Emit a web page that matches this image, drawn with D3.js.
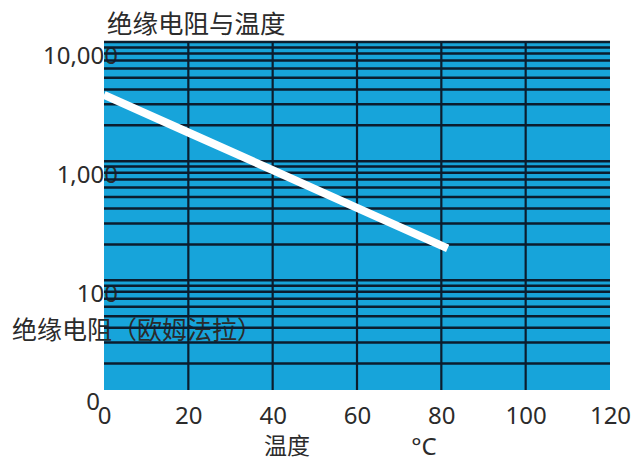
<!DOCTYPE html>
<html>
<head>
<meta charset="utf-8">
<script src="https://cdn.jsdelivr.net/npm/d3@7"></script>
<style>
  body { margin: 0; background: #fff; }
  svg text { font-family: "Noto Sans", "Noto Sans CJK SC", sans-serif; fill: #2b2b2b; }
</style>
</head>
<body>
<svg id="chart" width="639" height="462"></svg>
<script>
// data
const temps = [0, 20, 40, 60, 81.5];
const resistance = [3600, 1740, 840, 405, 185];

const xTickValues = [0, 20, 40, 60, 80, 100, 120];
const xGridValues = [20, 40, 60, 80, 100];
const yTickValues = [10000, 1000, 100];
const yTickLabels = ["10,000", "1,000", "100"];
const yGridValues = [20, 30, 40, 50, 60, 70, 80, 90,
                     100, 200, 300, 400, 500, 600, 700, 800, 900,
                     1000, 2000, 3000, 4000, 5000, 6000, 7000, 8000, 9000, 10000];

const title = "绝缘电阻与温度";
const yTitle = "绝缘电阻（欧姆法拉）";
const xTitle = "温度";
const xUnit = "°C";

const svg = d3.select("svg#chart");
const plotLeft = 104, plotRight = 610, plotTop = 42, plotBottom = 390;

const x = d3.scaleLinear().domain([0, 120]).range([plotLeft, plotRight]);
const y = d3.scaleLog().domain([12, 10000]).range([plotBottom, plotTop]);

// plot background
svg.append("rect")
   .attr("x", plotLeft).attr("y", plotTop)
   .attr("width", plotRight - plotLeft).attr("height", plotBottom - plotTop)
   .attr("fill", "#17a4da");

// title
svg.append("text")
   .attr("x", 107).attr("y", 33)
   .attr("font-size", 25.5)
   .text(title);

// y tick labels
let yAxis = svg.append("g")
   .attr("class", "y axis")
   .attr("transform", "translate(" + plotLeft + ",0)")
   .call(d3.axisLeft(y).tickValues(yTickValues)
           .tickFormat((d, i) => yTickLabels[i])
           .tickSize(0).tickPadding(-14));
yAxis.select(".domain").remove();
yAxis.selectAll("text")
     .attr("font-size", 24)
     .attr("dy", "0.9em")
     .style("fill", "#2b2b2b")
     .style("font-family", "Noto Sans, sans-serif");

// bottom "0" label of the value axis (sits at the bottom of the plot)
svg.append("text")
   .attr("x", 100).attr("y", y(12) + 20)
   .attr("text-anchor", "end")
   .attr("font-size", 24)
   .text("0");

// x tick labels
let xAxis = svg.append("g")
   .attr("class", "x axis")
   .attr("transform", "translate(0," + plotBottom + ")")
   .call(d3.axisBottom(x).tickValues(xTickValues).tickSize(0).tickPadding(17));
xAxis.select(".domain").remove();
xAxis.selectAll("text")
     .attr("font-size", 24)
     .style("fill", "#2b2b2b")
     .style("font-family", "Noto Sans, sans-serif");

// axis titles
svg.append("text")
   .attr("x", 12).attr("y", 339)
   .attr("font-size", 25)
   .text(yTitle);

svg.append("text")
   .attr("x", 287).attr("y", 454)
   .attr("text-anchor", "middle")
   .attr("font-size", 23)
   .text(xTitle);

svg.append("text")
   .attr("x", 424).attr("y", 455)
   .attr("text-anchor", "middle")
   .attr("font-size", 24)
   .text(xUnit);

// grid lines
let grid = svg.append("g").attr("class", "grid");
grid.selectAll("line.h")
    .data(yGridValues)
    .join("line")
    .attr("class", "h")
    .attr("x1", plotLeft).attr("x2", plotRight)
    .attr("y1", d => y(d)).attr("y2", d => y(d))
    .attr("stroke", "#0b1d2e")
    .attr("stroke-width", 2.5);
grid.selectAll("line.v")
    .data(xGridValues)
    .join("line")
    .attr("class", "v")
    .attr("x1", d => x(d)).attr("x2", d => x(d))
    .attr("y1", plotTop).attr("y2", plotBottom)
    .attr("stroke", "#0b1d2e")
    .attr("stroke-width", 2.2);

// resistance curve
const points = temps.map((t, i) => [t, resistance[i]]);
svg.append("path")
   .datum(points)
   .attr("d", d3.line().x(d => x(d[0])).y(d => y(d[1])))
   .attr("fill", "none")
   .attr("stroke", "#ffffff")
   .attr("stroke-width", 8);
</script>
</body>
</html>
